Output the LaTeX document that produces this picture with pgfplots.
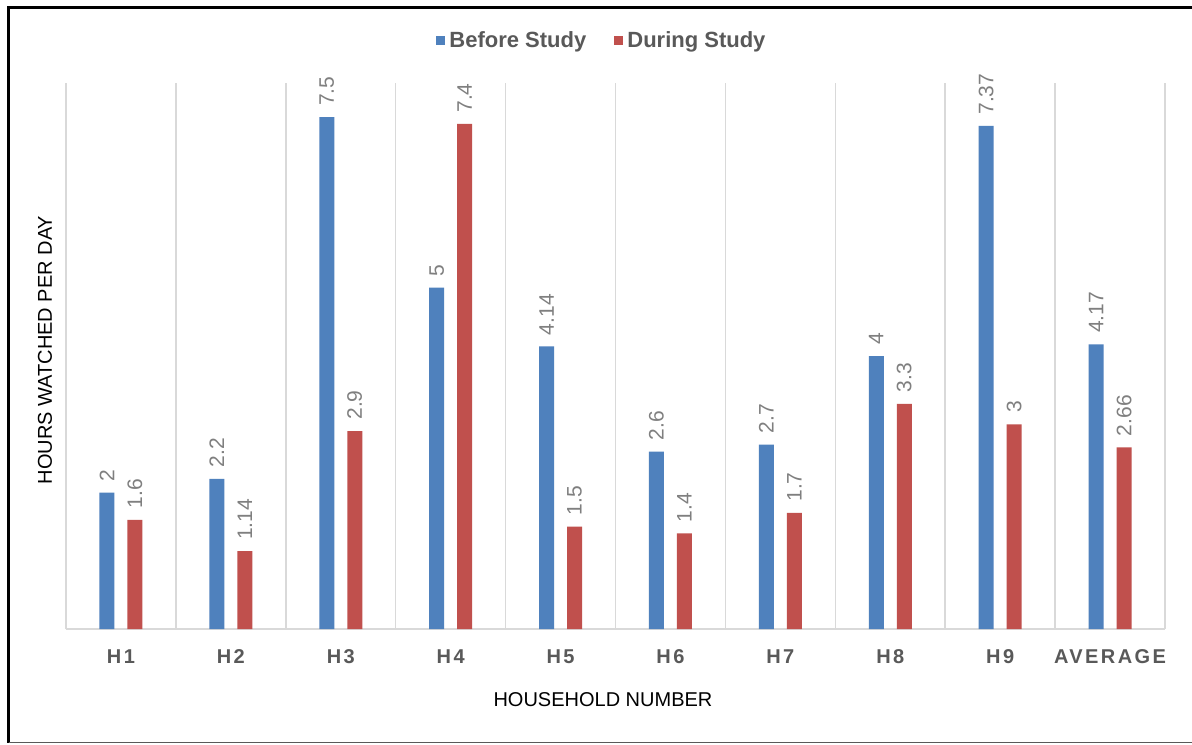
\documentclass[border=0pt]{standalone}
\usepackage{fontspec}
\setmainfont{Liberation Sans}
\newfontfamily\tickfont[LetterSpace=12]{Liberation Sans}
\usepackage{pgfplots}
\pgfplotsset{compat=1.18}
\definecolor{cblue}{HTML}{4F81BD}
\definecolor{cred}{HTML}{C0504D}
\definecolor{gridgray}{HTML}{D9D9D9}
\definecolor{ticktext}{HTML}{595959}
\definecolor{labgray}{HTML}{7F7F7F}
\begin{document}
\begin{tikzpicture}
\path[use as bounding box] (0,0) rectangle (596pt,372pt);
\fill[white] (0,0) rectangle (596pt,372pt);
\begin{axis}[
  at={(33pt,57.5pt)}, anchor=south west,
  scale only axis, width=549.5pt, height=273pt,
  /pgf/number format/assume math mode=true,
  ybar,
  xmin=-0.5, xmax=9.5, ymin=0, ymax=8,
  axis x line*=bottom,
  axis y line*=left,
  y axis line style={draw=none},
  ytick=\empty,
  x axis line style={draw=gridgray, line width=1pt, -},
  xtick={0,...,9},
  xticklabels={H1,H2,H3,H4,H5,H6,H7,H8,H9,AVERAGE},
  major tick length=0pt, minor tick length=0pt,
  minor xtick={-0.5,0.5,...,9.5},
  xminorgrids=true,
  minor grid style={draw=gridgray, line width=0.75pt},
  xticklabel style={font=\tickfont\bfseries\fontsize{10}{12}\selectfont, text=ticktext, anchor=center, yshift=-14pt},
  xlabel={HOUSEHOLD NUMBER},
  xlabel style={at={(axis description cs:0.4886,0)}, anchor=center, yshift=-35.5pt, font=\fontsize{10}{12}\selectfont, text=black},
  ylabel={HOURS WATCHED PER DAY},
  ylabel style={at={(axis description cs:0,0.511)}, anchor=center, yshift=10.5pt, font=\fontsize{10}{12}\selectfont, text=black},
  bar width=7.5pt,
  nodes near coords,
  nodes near coords style={rotate=90, anchor=west, inner xsep=5.5pt, inner ysep=0pt, font=\fontsize{10.5}{12}\selectfont, text=labgray},
  legend style={at={(0.4886,1)}, anchor=center, yshift=21pt, draw=none, fill=none,
    legend columns=2, font=\bfseries\fontsize{11}{13}\selectfont, text=ticktext,
    /tikz/every even column/.append style={column sep=12pt}},
  legend image code/.code={\fill (0pt,-2.25pt) rectangle (4.5pt,2.25pt);},
]
\addplot[bar shift=-7pt, fill=cblue, draw=none] coordinates {
 (0,2) (1,2.2) (2,7.5) (3,5) (4,4.14) (5,2.6) (6,2.7) (7,4) (8,7.37) (9,4.17)};
\addlegendentry{Before Study}
\addplot[bar shift=7pt, fill=cred, draw=none] coordinates {
 (0,1.6) (1,1.14) (2,2.9) (3,7.4) (4,1.5) (5,1.4) (6,1.7) (7,3.3) (8,3) (9,2.66)};
\addlegendentry{During Study}
\end{axis}
\draw[black, line width=1.5pt] (4.25pt,0.75pt) -- (4.25pt,368pt) -- (596pt,368pt);
\draw[ticktext, line width=0.75pt] (4.25pt,0.75pt) -- (596pt,0.75pt);
\end{tikzpicture}
\end{document}
